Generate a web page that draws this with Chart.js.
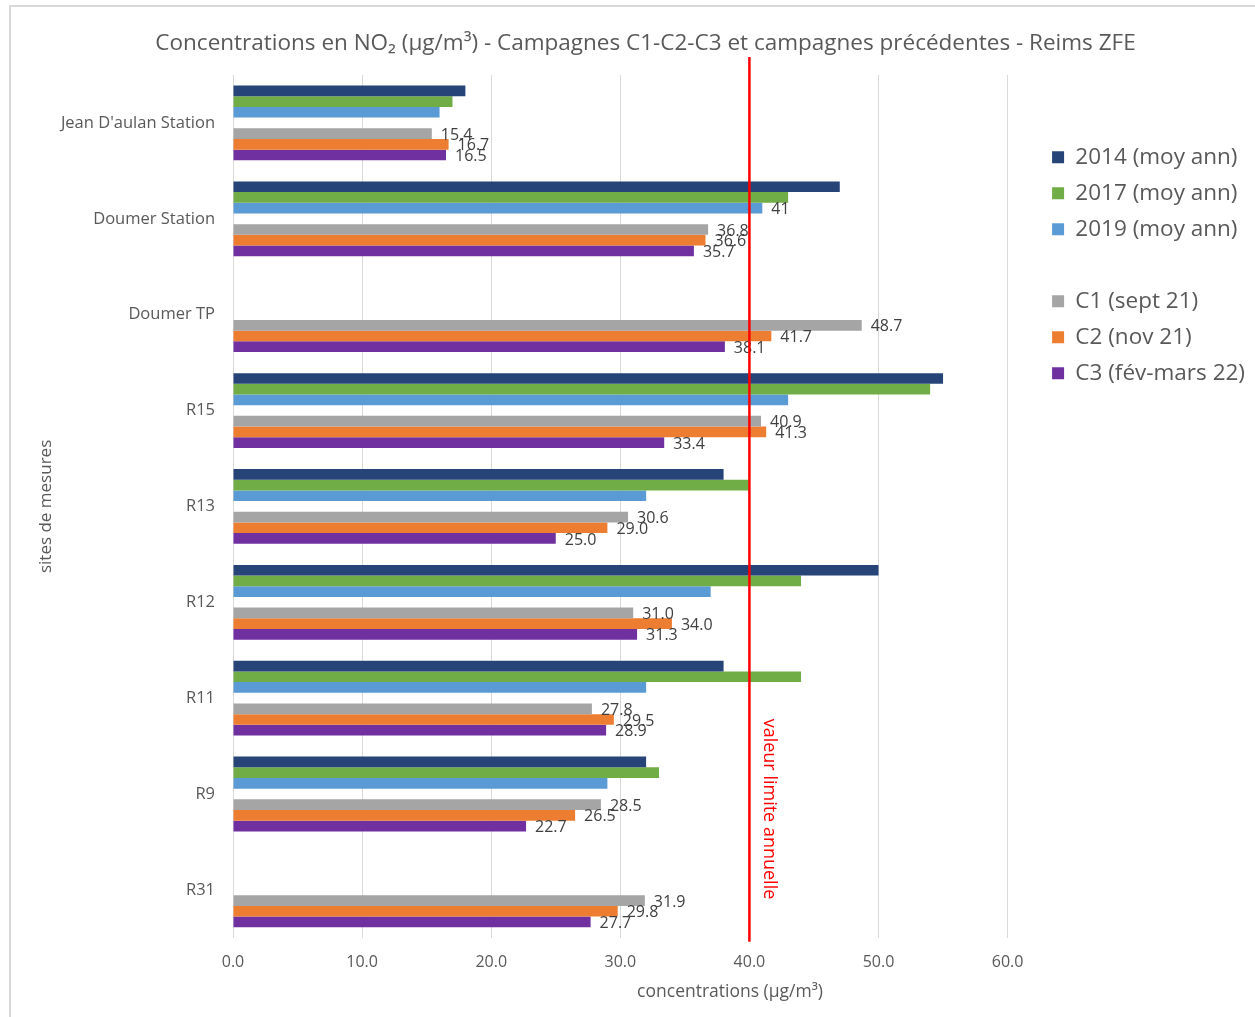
<!DOCTYPE html>
<html lang="fr">
<head>
<meta charset="utf-8">
<title>Concentrations en NO2 - Reims ZFE</title>
<script src="https://cdn.jsdelivr.net/npm/chart.js@4.4.1/dist/chart.umd.min.js"></script>
<style>
  html, body { margin: 0; padding: 0; background: #fff; overflow: hidden; }
  #cadre {
    position: absolute; left: 9px; top: 5px; width: 1300px; height: 1100px;
    border-left: 2px solid #d9d9d9; border-top: 2px solid #d9d9d9;
  }
  #zone { position: absolute; left: 0; top: 0; width: 1255px; height: 1017px; }
</style>
</head>
<body>
<div id="cadre"></div>
<div id="zone"><canvas id="graphique"></canvas></div>
<script>
// sites de mesures
const sites = ["Jean D'aulan Station", "Doumer Station", "Doumer TP", "R15", "R13", "R12", "R11", "R9", "R31"]

// moyennes annuelles (pas de mesure a Doumer TP et R31)
const moy2014 = [18, 47, null, 55, 38, 50, 38, 32, null]
const moy2017 = [17, 43, null, 54, 40, 44, 44, 33, null]
const moy2019 = [16, 41, null, 43, 32, 37, 32, 29, null]

// campagnes
const campagneC1 = [15.4, 36.8, 48.7, 40.9, 30.6, 31.0, 27.8, 28.5, 31.9]
const campagneC2 = [16.7, 36.6, 41.7, 41.3, 29.0, 34.0, 29.5, 26.5, 29.8]
const campagneC3 = [16.5, 35.7, 38.1, 33.4, 25.0, 31.3, 28.9, 22.7, 27.7]

const ticksX = [0, 10, 20, 30, 40, 50, 60]
const limiteAnnuelle = 40

const POLICE = '"Segoe UI", "Open Sans", sans-serif'
const GRIS_TEXTE = '#595959'

// etiquettes de valeur a droite des barres
const etiquettesBarres = {
  id: 'etiquettesBarres',
  afterDatasetsDraw(chart) {
    const ctx = chart.ctx
    ctx.save()
    ctx.font = '16px ' + POLICE
    ctx.fillStyle = '#404040'
    ctx.textAlign = 'left'
    ctx.textBaseline = 'middle'
    chart.data.datasets.forEach((ds, i) => {
      if (!ds.etiquette) return
      const meta = chart.getDatasetMeta(i)
      meta.data.forEach((barre, j) => {
        const v = ds.data[j]
        if (v === null || v === undefined) return
        if (ds.etiquetteSites && !ds.etiquetteSites.includes(j)) return
        ctx.fillText(ds.etiquette(v), barre.x + 9, barre.y + 1.5)
      })
    })
    ctx.restore()
  }
}

// ligne rouge de la valeur limite + titre de l'axe x
const valeurLimite = {
  id: 'valeurLimite',
  afterDraw(chart) {
    const {ctx, chartArea, scales} = chart
    const x = scales.x.getPixelForValue(limiteAnnuelle)
    ctx.save()
    ctx.strokeStyle = '#ff0000'
    ctx.lineWidth = 2.5
    ctx.beginPath()
    ctx.moveTo(x, chartArea.top - 18)
    ctx.lineTo(x, chartArea.bottom + 4)
    ctx.stroke()

    ctx.translate(x + 20, scales.y.getPixelForValue(7) + 15)
    ctx.rotate(Math.PI / 2)
    ctx.fillStyle = '#ff0000'
    ctx.font = '18px ' + POLICE
    ctx.textAlign = 'center'
    ctx.textBaseline = 'middle'
    ctx.fillText('valeur limite annuelle', 0, 0)
    ctx.restore()

    ctx.save()
    ctx.fillStyle = GRIS_TEXTE
    ctx.font = '17.5px ' + POLICE
    ctx.textAlign = 'center'
    ctx.textBaseline = 'middle'
    ctx.fillText('concentrations (µg/m³)', scales.x.getPixelForValue(38.5), chartArea.bottom + 54)
    ctx.restore()
  }
}

const format1 = v => v.toFixed(1)

new Chart(document.getElementById('graphique'), {
  type: 'bar',
  data: {
    labels: sites,
    datasets: [
      { label: '2014 (moy ann)', data: moy2014, backgroundColor: '#264478' },
      { label: '2017 (moy ann)', data: moy2017, backgroundColor: '#70ad47' },
      { label: '2019 (moy ann)', data: moy2019, backgroundColor: '#5b9bd5', etiquette: v => String(v), etiquetteSites: [1] },
      { label: '', data: [], backgroundColor: 'rgba(0,0,0,0)', borderWidth: 0 },
      { label: 'C1 (sept 21)', data: campagneC1, backgroundColor: '#a5a5a5', etiquette: format1 },
      { label: 'C2 (nov 21)', data: campagneC2, backgroundColor: '#ed7d31', etiquette: format1 },
      { label: 'C3 (fév-mars 22)', data: campagneC3, backgroundColor: '#7030a0', etiquette: format1 }
    ]
  },
  options: {
    indexAxis: 'y',
    responsive: true,
    maintainAspectRatio: false,
    animation: false,
    datasets: {
      bar: { categoryPercentage: 0.78, barPercentage: 1 }
    },
    layout: { padding: { left: 36, right: 0, top: 0, bottom: 30 } },
    scales: {
      x: {
        min: 0,
        // un peu de marge a droite du dernier trait, avant la legende
        max: 62.4,
        afterBuildTicks(scale) { scale.ticks = ticksX.map(v => ({value: v})) },
        grid: { color: '#d9d9d9', drawTicks: false },
        border: { display: false },
        ticks: {
          color: GRIS_TEXTE,
          font: { size: 16, family: POLICE },
          padding: 15,
          callback: v => Number(v).toFixed(1)
        }
      },
      y: {
        afterFit(scale) { scale.width = 197 },
        grid: { display: false, drawTicks: false },
        border: { display: true, color: '#d9d9d9', width: 1 },
        ticks: {
          color: GRIS_TEXTE,
          font: { size: 16.5, family: POLICE },
          padding: 18
        },
        title: {
          display: true,
          text: 'sites de mesures',
          color: GRIS_TEXTE,
          font: { size: 17, family: POLICE },
          padding: 0
        }
      }
    },
    plugins: {
      title: {
        display: true,
        text: 'Concentrations en NO₂ (µg/m³) - Campagnes C1-C2-C3 et campagnes précédentes - Reims ZFE',
        color: GRIS_TEXTE,
        font: { size: 22.5, family: POLICE, weight: 'normal' },
        padding: { top: 30, bottom: 18 }
      },
      legend: {
        position: 'right',
        align: 'start',
        title: { display: true, text: ' ', font: { size: 12 }, padding: { top: 118, bottom: 0 } },
        labels: {
          color: GRIS_TEXTE,
          font: { size: 22.5, family: POLICE },
          boxWidth: 12,
          boxHeight: 12,
          padding: 13.5
        }
      },
      tooltip: { enabled: false }
    }
  },
  plugins: [etiquettesBarres, valeurLimite]
})
</script>
</body>
</html>
